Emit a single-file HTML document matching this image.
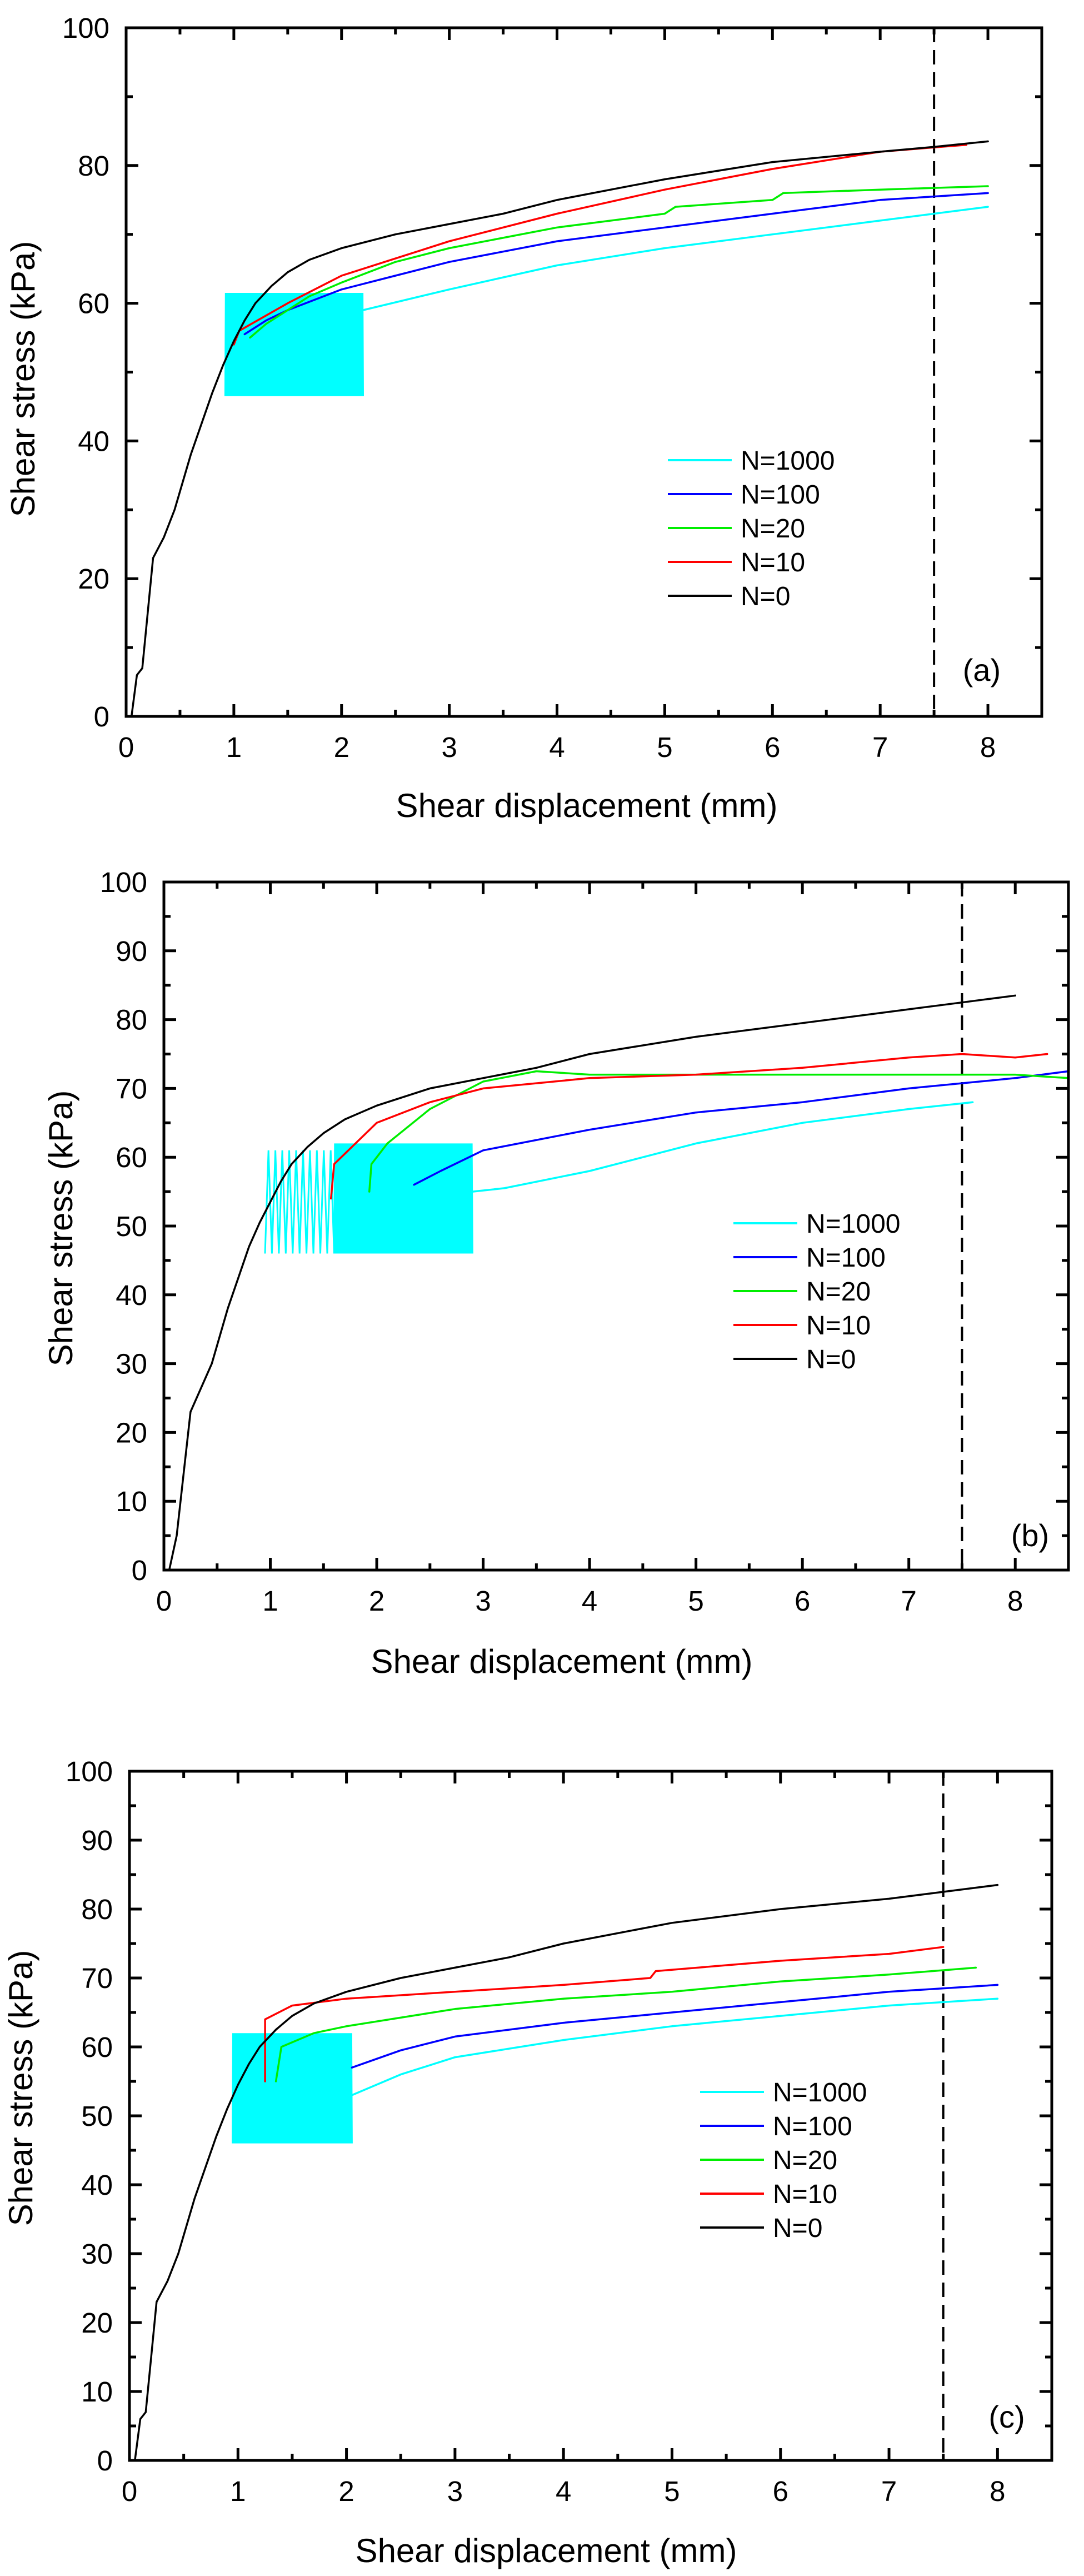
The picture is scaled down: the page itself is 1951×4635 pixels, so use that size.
<!DOCTYPE html>
<html><head><meta charset="utf-8">
<style>
html,body{margin:0;padding:0;background:#fff;}
svg{display:block;font-family:"Liberation Sans",Arial,sans-serif;}
</style></head>
<body>
<svg id="fig" width="1951" height="4635" viewBox="0 0 1951 4635" xmlns="http://www.w3.org/2000/svg"></svg>
<script>
// ---------- data ----------
const seriesNames = ["N=1000","N=100","N=20","N=10","N=0"];
const seriesColors = ["#00ffff","#0000ff","#00ee00","#ff0000","#000000"];

// panel (a)
const aN0x = [0.05,0.1,0.15,0.2,0.25,0.35,0.45,0.6,0.8,0.9,1.0,1.1,1.2,1.35,1.5,1.7,2,2.5,3,3.5,4,5,6,7,7.5,8];
const aN0y = [0,6,7,15,23,26,30,38,47,51,54.5,57.5,60,62.5,64.5,66.3,68,70,71.5,73,75,78,80.5,82,82.7,83.5];
const aN1000x = [2.2,3,4,5,6,7,8];
const aN1000y = [59,62,65.5,68,70,72,74];
const aBand = [0.92,2.2,46.5,61.5,130];
const aN100x = [1.1,1.3,1.5,2,2.5,3,4,5,6,7,8];
const aN100y = [55.5,57.5,59,62,64,66,69,71,73,75,76];
const aN20x = [1.15,1.3,1.7,2,2.5,3,4,5,5.1,6,6.1,7,8];
const aN20y = [55,57,61,63,66,68,71,73,74,75,76,76.5,77];
const aN10x = [1.0,1.05,1.5,2,2.5,3,4,5,6,7,7.8];
const aN10y = [54,56,60,64,66.5,69,73,76.5,79.5,82,83];

// panel (b)
const bN0x = [0.05,0.12,0.25,0.45,0.6,0.8,0.9,1,1.1,1.2,1.35,1.5,1.7,2,2.5,3,3.5,4,5,6,7,7.5,8];
const bN0y = [0,5,23,30,38,47,50.5,53.5,56.5,59,61.5,63.5,65.5,67.5,70,71.5,73,75,77.5,79.5,81.5,82.5,83.5];
const bN1000x = [2.9,3.2,4,5,6,7,7.6];
const bN1000y = [55,55.5,58,62,65,67,68];
const bBandSparse = [0.95,1.6,46,61,10];
const bBand = [1.6,2.9,46,62,90];
const bN100x = [2.35,2.6,3,4,5,6,7,8,8.5];
const bN100y = [56,58,61,64,66.5,68,70,71.5,72.5];
const bN20x = [1.93,1.95,2.1,2.5,3,3.5,4,5,6,7,8,8.5];
const bN20y = [55,59,62,67,71,72.5,72,72,72,72,72,71.5];
const bN10x = [1.57,1.6,1.8,2,2.5,3,4,5,6,7,7.5,8,8.3];
const bN10y = [54,59,62,65,68,70,71.5,72,73,74.5,75,74.5,75];

// panel (c)
const cN0x = [0.05,0.1,0.15,0.2,0.25,0.35,0.45,0.6,0.8,0.9,1.0,1.1,1.2,1.35,1.5,1.7,2,2.5,3,3.5,4,5,6,7,7.5,8];
const cN0y = [0,6,7,15,23,26,30,38,47,51,54.5,57.5,60,62.5,64.5,66.3,68,70,71.5,73,75,78,80,81.5,82.5,83.5];
const cN1000x = [2.05,2.5,3,4,5,6,7,8];
const cN1000y = [53,56,58.5,61,63,64.5,66,67];
const cBand = [0.95,2.05,46,62,110];
const cN100x = [2.05,2.5,3,4,5,6,7,8];
const cN100y = [57,59.5,61.5,63.5,65,66.5,68,69];
const cN20x = [1.35,1.4,1.7,2,3,4,5,6,7,7.8];
const cN20y = [55,60,62,63,65.5,67,68,69.5,70.5,71.5];
const cN10x = [1.25,1.25,1.5,2,3,4,4.8,4.85,6,7,7.5];
const cN10y = [55,64,66,67,68,69,70,71,72.5,73.5,74.5];

const xTicks = [0,1,2,3,4,5,6,7,8];
const yTicksA = [0,20,40,60,80,100];
const yTicksBC = [0,10,20,30,40,50,60,70,80,90,100];

// ---------- drawing ----------
const NS = "http://www.w3.org/2000/svg";
const svg = document.getElementById("fig");
function mk(tag, attrs, parent){
  const e = document.createElementNS(NS, tag);
  for (const k in attrs) e.setAttribute(k, attrs[k]);
  (parent||svg).appendChild(e);
  return e;
}

function panel(cfg){
  const g = mk("g", {});
  
  
  const X = v => cfg.L + (v - 0) / 8.5 * (cfg.R - cfg.L);
  const Y = v => cfg.B - v / 100 * (cfg.B - cfg.T);

  const dl = mk("line", {x1:X(7.5), x2:X(7.5), y1:cfg.T, y2:cfg.B, stroke:"#000", "stroke-width":4, "stroke-dasharray":"26,14"}, g);
  
  

  cfg.bands.forEach(b => {
    const [x0,x1,lo,hi,n] = b;
    let d = "";
    for (let i=0;i<=n;i++){
      const xv = x0 + (x1-x0)*i/n;
      d += (i===0?"M":"L") + X(xv).toFixed(1) + "," + Y(lo).toFixed(1);
      if (i<n){ const xm = x0 + (x1-x0)*(i+0.5)/n; d += "L" + X(xm).toFixed(1) + "," + Y(hi).toFixed(1); }
    }
    const p = mk("path", {d, fill:"none", stroke:"#00ffff", "stroke-width":3}, g);
    
    
  });

  cfg.series.forEach((s) => {
    const [xs, ys, col, nm] = s;
    const d = xs.map((v,i)=> (i?"L":"M") + X(v).toFixed(1) + "," + Y(ys[i]).toFixed(1)).join("");
    const p = mk("path", {d, fill:"none", stroke:col, "stroke-width":3.5, "stroke-linejoin":"round", "stroke-linecap":"round"}, g);
    
    
  });

  const fr = mk("rect", {x:cfg.L, y:cfg.T, width:cfg.R-cfg.L, height:cfg.B-cfg.T, fill:"none", stroke:"#000", "stroke-width":5}, g);
  
  

  for (let v=0; v<=8.5001; v+=0.5){
    const major = Math.abs(v - Math.round(v)) < 1e-6;
    const len = major ? 22 : 12;
    mk("line", {x1:X(v), x2:X(v), y1:cfg.B, y2:cfg.B-len, stroke:"#000", "stroke-width":5}, g);
    mk("line", {x1:X(v), x2:X(v), y1:cfg.T, y2:cfg.T+len, stroke:"#000", "stroke-width":5}, g);
  }
  xTicks.forEach(v => {
    const t = mk("text", {x:X(v), y:cfg.B+73, "font-size":51, "text-anchor":"middle"}, g);
    t.textContent = v;
    
    
  });
  const step = cfg.yTicks[1]-cfg.yTicks[0];
  for (let v=0; v<=100.001; v+=step/2){
    const major = Math.abs((v/step) - Math.round(v/step)) < 1e-6;
    const len = major ? 22 : 12;
    mk("line", {x1:cfg.L, x2:cfg.L+len, y1:Y(v), y2:Y(v), stroke:"#000", "stroke-width":5}, g);
    mk("line", {x1:cfg.R, x2:cfg.R-len, y1:Y(v), y2:Y(v), stroke:"#000", "stroke-width":5}, g);
  }
  cfg.yTicks.forEach(v => {
    const t = mk("text", {x:cfg.L-30, y:Y(v)+18, "font-size":51, "text-anchor":"end"}, g);
    t.textContent = v;
    
    
  });

  const xt = mk("text", {x:cfg.xtX, y:cfg.xtY, "font-size":60, "text-anchor":"middle"}, g);
  xt.textContent = "Shear displacement (mm)";
  
  
  const yt = mk("text", {x:0, y:0, "font-size":60, "text-anchor":"middle", transform:`translate(${cfg.ytX},${cfg.ytY}) rotate(-90)`}, g);
  yt.textContent = "Shear stress (kPa)";
  
  

  const pl = mk("text", {x:cfg.lbX, y:cfg.lbY, "font-size":56, "text-anchor":"middle"}, g);
  pl.textContent = "(" + cfg.id + ")";
  
  

  const lg = mk("g", {}, g);
  
  
  seriesNames.forEach((nm, i) => {
    const yy = cfg.lgY + i*61;
    const e = mk("g", {}, lg);
    
    
    mk("line", {x1:cfg.lgX, x2:cfg.lgX+115, y1:yy, y2:yy, stroke:seriesColors[i], "stroke-width":4}, e);
    const t = mk("text", {x:cfg.lgX+131, y:yy+17, "font-size":48}, e);
    t.textContent = nm;
  });
}

panel({id:"a", L:227, R:1875, T:50, B:1289, yTicks:yTicksA,
  bands:[aBand],
  series:[[aN1000x,aN1000y,"#00ffff","n1000"],[aN100x,aN100y,"#0000ff","n100"],[aN20x,aN20y,"#00ee00","n20"],[aN10x,aN10y,"#ff0000","n10"],[aN0x,aN0y,"#000000","n0"]],
  xtX:1056, xtY:1470, ytX:62, ytY:682, lbX:1767, lbY:1225, lgX:1202, lgY:828});
panel({id:"b", L:295, R:1923, T:1587, B:2825, yTicks:yTicksBC,
  bands:[bBandSparse,bBand],
  series:[[bN1000x,bN1000y,"#00ffff","n1000"],[bN100x,bN100y,"#0000ff","n100"],[bN20x,bN20y,"#00ee00","n20"],[bN10x,bN10y,"#ff0000","n10"],[bN0x,bN0y,"#000000","n0"]],
  xtX:1011, xtY:3010, ytX:130, ytY:2210, lbX:1854, lbY:2782, lgX:1320, lgY:2201});
panel({id:"c", L:233, R:1893, T:3187, B:4427, yTicks:yTicksBC,
  bands:[cBand],
  series:[[cN1000x,cN1000y,"#00ffff","n1000"],[cN100x,cN100y,"#0000ff","n100"],[cN20x,cN20y,"#00ee00","n20"],[cN10x,cN10y,"#ff0000","n10"],[cN0x,cN0y,"#000000","n0"]],
  xtX:983, xtY:4610, ytX:58, ytY:3757, lbX:1812, lbY:4368, lgX:1260, lgY:3764});
</script>
</body></html>
